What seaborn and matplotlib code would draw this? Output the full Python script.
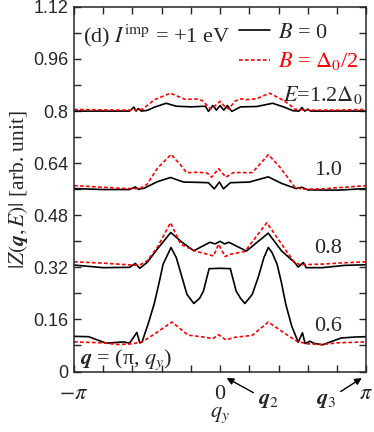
import matplotlib
matplotlib.use('Agg')
import matplotlib.pyplot as plt
import pandas as pd
import seaborn as sns

# q_y in units of pi, |Z| in arb. units
q12_b = [-1.0, -0.8, -0.62, -0.59, -0.575, -0.56, -0.54, -0.5, -0.45, -0.37, -0.3, -0.2, -0.1, -0.08, -0.05, -0.025,
         0.0, 0.025, 0.05, 0.08, 0.14, 0.25, 0.36, 0.44, 0.5, 0.54, 0.56, 0.58, 0.6, 0.62, 0.8, 1.0]
z12_b = [0.800, 0.800, 0.800, 0.812, 0.800, 0.808, 0.800, 0.802, 0.812, 0.824, 0.815, 0.813, 0.815, 0.799, 0.817, 0.803,
         0.817, 0.803, 0.817, 0.799, 0.813, 0.814, 0.824, 0.812, 0.801, 0.800, 0.811, 0.800, 0.806, 0.800, 0.800, 0.800]
q12_r = [-1.0, -0.7, -0.58, -0.53, -0.45, -0.34, -0.24, -0.16, -0.12, -0.065, -0.03, 0.0, 0.03, 0.06, 0.1, 0.14,
         0.18, 0.25, 0.34, 0.42, 0.47, 0.51, 0.58, 0.8, 1.0]
z12_r = [0.805, 0.803, 0.803, 0.806, 0.835, 0.855, 0.836, 0.837, 0.832, 0.806, 0.818, 0.830, 0.815, 0.806, 0.830, 0.838,
         0.835, 0.838, 0.855, 0.836, 0.822, 0.806, 0.803, 0.803, 0.805]

q10_b = [-1.0, -0.8, -0.62, -0.58, -0.56, -0.52, -0.43, -0.34, -0.25, -0.15, -0.08, -0.04, -0.005, 0.023, 0.07,
         0.2, 0.33, 0.42, 0.52, 0.56, 0.6, 0.8, 1.0]
z10_b = [0.562, 0.559, 0.559, 0.567, 0.560, 0.563, 0.583, 0.596, 0.582, 0.581, 0.580, 0.561, 0.582, 0.561, 0.580,
         0.582, 0.598, 0.578, 0.562, 0.566, 0.558, 0.557, 0.562]
q10_r = [-1.0, -0.8, -0.65, -0.55, -0.5, -0.43, -0.336, -0.27, -0.23, -0.15, -0.09, -0.058, -0.01, 0.04, 0.09,
         0.22, 0.33, 0.4, 0.47, 0.51, 0.56, 0.7, 0.85, 1.0]
z10_r = [0.571, 0.566, 0.562, 0.562, 0.575, 0.624, 0.667, 0.634, 0.611, 0.612, 0.610, 0.597, 0.623, 0.597, 0.611,
         0.611, 0.666, 0.633, 0.592, 0.567, 0.560, 0.561, 0.566, 0.571]

q08_b = [-1.0, -0.8, -0.62, -0.58, -0.55, -0.5, -0.43, -0.338, -0.26, -0.18, -0.07, -0.034, 0.0, 0.03, 0.06,
         0.18, 0.33, 0.42, 0.51, 0.535, 0.57, 0.59, 0.7, 0.85, 1.0]
z08_b = [0.327, 0.319, 0.320, 0.332, 0.317, 0.335, 0.376, 0.427, 0.397, 0.371, 0.397, 0.392, 0.400, 0.392, 0.397,
         0.370, 0.425, 0.371, 0.335, 0.321, 0.335, 0.319, 0.319, 0.326, 0.328]
q08_r = [-1.0, -0.8, -0.6, -0.55, -0.5, -0.43, -0.34, -0.27, -0.17, -0.07, -0.045, -0.01, 0.034, 0.07, 0.17,
         0.32, 0.38, 0.46, 0.51, 0.55, 0.7, 0.85, 1.0]
z08_r = [0.337, 0.333, 0.327, 0.327, 0.340, 0.381, 0.457, 0.391, 0.370, 0.358, 0.355, 0.391, 0.353, 0.360, 0.369,
         0.457, 0.418, 0.366, 0.335, 0.328, 0.330, 0.334, 0.337]

q06_b = [-1.0, -0.9, -0.78, -0.66, -0.62, -0.57, -0.55, -0.535, -0.49, -0.45, -0.42, -0.39, -0.336, -0.3, -0.26,
         -0.227, -0.18, -0.14, -0.114, -0.09, -0.075, 0.0, 0.07, 0.085, 0.11, 0.14, 0.17, 0.22, 0.26, 0.3, 0.33,
         0.355, 0.39, 0.42, 0.45, 0.49, 0.535, 0.564, 0.582, 0.616, 0.64, 0.7, 0.83, 0.925, 1.0]
z06_b = [0.108, 0.107, 0.087, 0.091, 0.087, 0.120, 0.088, 0.090, 0.150, 0.210, 0.268, 0.330, 0.381, 0.350, 0.288,
         0.237, 0.209, 0.225, 0.247, 0.290, 0.316, 0.317, 0.316, 0.290, 0.247, 0.225, 0.209, 0.237, 0.288, 0.350, 0.381,
         0.366, 0.330, 0.273, 0.206, 0.140, 0.090, 0.119, 0.086, 0.093, 0.087, 0.082, 0.103, 0.106, 0.107]
q06_r = [-1.0, -0.8, -0.7, -0.6, -0.53, -0.45, -0.33, -0.22, -0.1, -0.05, -0.01, 0.04, 0.1, 0.22, 0.33, 0.45,
         0.53, 0.6, 0.7, 0.8, 1.0]
z06_r = [0.091, 0.088, 0.083, 0.085, 0.092, 0.115, 0.152, 0.112, 0.105, 0.101, 0.113, 0.097, 0.105, 0.111, 0.152, 0.115,
         0.092, 0.085, 0.083, 0.088, 0.091]

curve_labels = ['$E$=1.2$\\Delta_0$', '1.0', '0.8', '0.6']

sns.set_style('ticks')
plt.rcParams['font.family'] = ['Liberation Serif', 'DejaVu Serif']
plt.rcParams['mathtext.fontset'] = 'stix'

fig, ax = plt.subplots(figsize=(3.74, 4.32), dpi=100)
fig.subplots_adjust(left=0.198, right=0.979, bottom=0.140, top=0.984)

black = [(q12_b, z12_b), (q10_b, z10_b), (q08_b, z08_b), (q06_b, z06_b)]
red = [(q12_r, z12_r), (q10_r, z10_r), (q08_r, z08_r), (q06_r, z06_r)]

for i, (q, z) in enumerate(black):
    d = pd.DataFrame({'q': q, 'Z': z})
    sns.lineplot(data=d, x='q', y='Z', ax=ax, color='black', lw=1.2,
                 label='$B$ = 0' if i == 0 else None)
for i, (q, z) in enumerate(red):
    d = pd.DataFrame({'q': q, 'Z': z})
    sns.lineplot(data=d, x='q', y='Z', ax=ax, color='#ff0000', lw=1.2,
                 linestyle=(0, (2.2, 1.4)),
                 label='$B$ = $\\Delta_0$/2' if i == 0 else None)

ax.set_xlim(-1, 1)
ax.set_ylim(0, 1.12)

xt = [-1 + 0.2 * k for k in range(11)]
ax.set_xticks(xt)
ax.set_xticklabels(['$-\\pi$' if k == 0 else ('0' if k == 5 else ('$\\pi$' if k == 10 else '')) for k in range(11)],
                   fontsize=16)
yt = [0.08 * k for k in range(15)]
ax.set_yticks(yt)
ax.set_yticklabels([('0' if k == 0 else ('%g' % round(0.08 * k, 2))) if k % 2 == 0 else '' for k in range(15)],
                   fontsize=13, family='Liberation Sans')
ax.tick_params(direction='in', length=5, width=1.0, top=True, right=True)
ax.tick_params(axis='x', pad=10)
ax.tick_params(axis='y', pad=4)
for s in ax.spines.values():
    s.set_linewidth(1.1)

ax.set_xlabel('$q_y$', fontsize=16, labelpad=1)
ax.set_ylabel('$|Z(\\mathbfit{q},E)|$ [arb. unit]', fontsize=15.5)
ax.yaxis.set_label_coords(-0.15, 0.5)

ax.text(-0.94, 1.03, '(d) $I^{\\rm imp}$ = +1 eV', fontsize=16, va='center')
ax.text(0.975, 0.848, curve_labels[0], fontsize=16, ha='right', va='center')
ax.text(0.736, 0.618, curve_labels[1], fontsize=16, ha='center', va='center')
ax.text(0.736, 0.379, curve_labels[2], fontsize=16, ha='center', va='center')
ax.text(0.736, 0.139, curve_labels[3], fontsize=16, ha='center', va='center')
ax.text(-0.96, 0.036, '$\\mathbfit{q}$ = (π, $q_y$)', fontsize=16, va='center')

arr = dict(arrowstyle='-|>', color='black', lw=1.0, mutation_scale=10, shrinkA=1, shrinkB=0)
ax.annotate('$\\mathbfit{q}_2$', xy=(0.045, -0.02), xytext=(0.33, -0.09), fontsize=16,
            ha='center', va='center', arrowprops=arr, annotation_clip=False)
ax.annotate('$\\mathbfit{q}_3$', xy=(0.97, -0.02), xytext=(0.726, -0.09), fontsize=16,
            ha='center', va='center', arrowprops=arr, annotation_clip=False)

leg = ax.legend(loc='upper right', bbox_to_anchor=(1.02, 0.995), frameon=False, fontsize=16,
                handlelength=1.4, handletextpad=0.35, labelspacing=0.35, borderaxespad=0.2)
leg.get_texts()[1].set_color('#ff0000')

fig.savefig('out.png', dpi=100)
